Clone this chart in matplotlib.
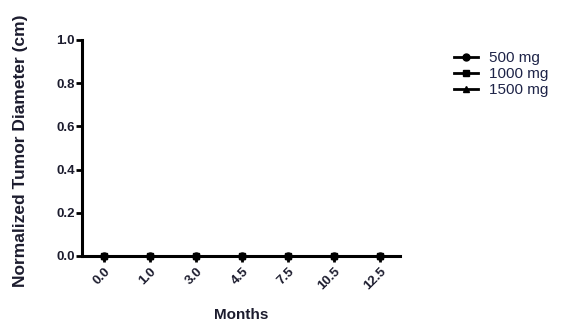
import matplotlib.pyplot as plt
import numpy as np

plt.rcParams['font.family'] = ['Liberation Sans', 'DejaVu Sans']

months = ['0.0', '1.0', '3.0', '4.5', '7.5', '10.5', '12.5']
dose_500 = [0, 0, 0, 0, 0, 0, 0]
dose_1000 = [0, 0, 0, 0, 0, 0, 0]
dose_1500 = [0, 0, 0, 0, 0, 0, 0]

series = [
    ('500 mg', dose_500, 'o'),
    ('1000 mg', dose_1000, 's'),
    ('1500 mg', dose_1500, '^'),
]

txt = '#1c1c2e'

fig = plt.figure(figsize=(5.61, 3.24), dpi=100)
ax = fig.add_axes([0.146, 0.21, 0.567, 0.667])

x = np.arange(len(months))
for name, vals, mk in series:
    ax.plot(x, vals, marker=mk, color='black', linewidth=2, markersize=5,
            label=name, clip_on=False, zorder=5)

ax.set_xlim(-0.48, 6.43)
ax.set_ylim(0, 1.0)
ax.set_yticks([0.0, 0.2, 0.4, 0.6, 0.8, 1.0])
ax.set_yticklabels(['0.0', '0.2', '0.4', '0.6', '0.8', '1.0'],
                   fontsize=9.5, fontweight='bold', color=txt)
ax.set_xticks(x)
ax.set_xticklabels(months, rotation=45, ha='right', rotation_mode='anchor',
                   fontsize=9.5, fontweight='bold', color=txt)

for side in ['top', 'right']:
    ax.spines[side].set_visible(False)
for side in ['left', 'bottom']:
    ax.spines[side].set_linewidth(2.2)
ax.tick_params(axis='both', length=4, width=2)
ax.tick_params(axis='x', pad=3)
ax.tick_params(axis='y', pad=1)

ax.set_ylabel('Normalized Tumor Diameter (cm)', fontsize=12.5,
              fontweight='bold', color=txt)
ax.yaxis.set_label_coords(-0.168, 0.486)
ax.set_xlabel('Months', fontsize=11, fontweight='bold', color=txt)
ax.xaxis.set_label_coords(0.5, -0.273)
ax.xaxis.label.set_va('center')

ax.legend(loc='upper left', bbox_to_anchor=(1.125, 1.01), frameon=False,
          fontsize=11, handlelength=1.6, handletextpad=0.7, labelspacing=0.12,
          labelcolor='#1e2448')

fig.savefig('out.png', dpi=100)
